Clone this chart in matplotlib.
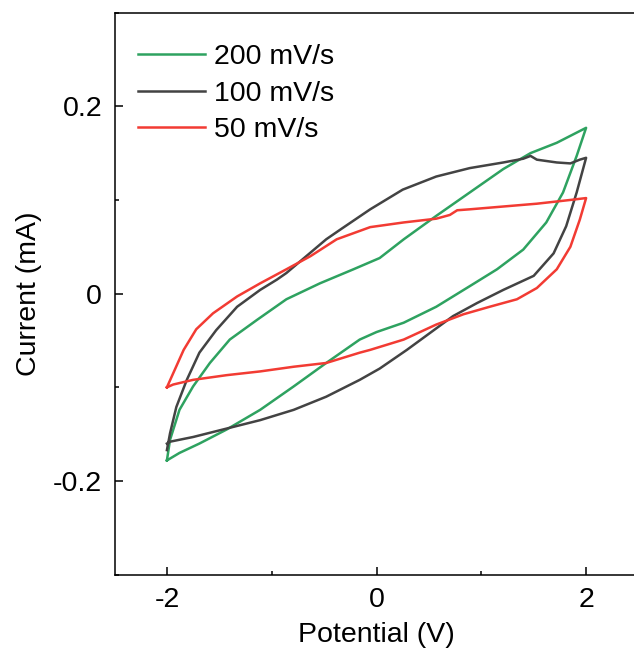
import numpy as np
import matplotlib
matplotlib.use('Agg')
import matplotlib.pyplot as plt
from matplotlib.ticker import MultipleLocator

matplotlib.rcParams['font.family'] = ['Liberation Sans', 'DejaVu Sans']
matplotlib.rcParams['axes.unicode_minus'] = False

# 200 mV/s: forward (upper) branch, then reverse (lower) branch
e200 = [-2.0, -1.97, -1.88, -1.75, -1.59, -1.40, -1.14, -0.86, -0.54, -0.22, 0.03, 0.26, 0.57, 0.89, 1.21, 1.47, 1.72, 2.0,
        1.91, 1.78, 1.62, 1.40, 1.15, 0.89, 0.57, 0.26, 0.0, -0.16, -0.48, -0.79, -1.11, -1.43, -1.69, -1.88, -2.0]
i200 = [-0.178, -0.156, -0.124, -0.099, -0.074, -0.049, -0.028, -0.006, 0.011, 0.026, 0.038, 0.058, 0.083, 0.108, 0.133, 0.150, 0.161, 0.177,
        0.147, 0.108, 0.076, 0.047, 0.026, 0.008, -0.014, -0.031, -0.041, -0.049, -0.074, -0.099, -0.124, -0.145, -0.160, -0.170, -0.178]

# 100 mV/s
e100 = [-2.0, -1.97, -1.91, -1.81, -1.69, -1.53, -1.33, -1.11, -0.95, -0.86, -0.67, -0.48, -0.35, -0.06, 0.25, 0.57, 0.89, 1.21,
        1.40, 1.47, 1.53, 1.72, 1.85, 1.94, 2.0,
        1.91, 1.81, 1.69, 1.50, 1.21, 0.96, 0.73, 0.51, 0.29, 0.03, -0.16, -0.48, -0.79, -1.11, -1.43, -1.75, -1.97, -2.0]
i100 = [-0.167, -0.149, -0.121, -0.092, -0.063, -0.039, -0.014, 0.004, 0.015, 0.022, 0.040, 0.058, 0.068, 0.090, 0.111, 0.125, 0.134, 0.140,
        0.144, 0.147, 0.143, 0.140, 0.139, 0.143, 0.145,
        0.108, 0.072, 0.043, 0.019, 0.004, -0.010, -0.024, -0.042, -0.060, -0.080, -0.092, -0.110, -0.124, -0.135, -0.144, -0.153, -0.158, -0.160]

# 50 mV/s
e50 = [-2.0, -1.94, -1.84, -1.72, -1.56, -1.33, -1.11, -0.86, -0.63, -0.38, -0.06, 0.26, 0.57, 0.70, 0.77, 0.89, 1.21, 1.53, 1.85, 2.0,
       1.94, 1.85, 1.72, 1.53, 1.34, 1.08, 0.83, 0.57, 0.26, -0.06, -0.16, -0.48, -0.79, -1.11, -1.43, -1.75, -1.94, -2.0]
i50 = [-0.100, -0.085, -0.060, -0.038, -0.021, -0.003, 0.011, 0.026, 0.040, 0.058, 0.071, 0.076, 0.080, 0.084, 0.089, 0.090, 0.093, 0.096, 0.100, 0.102,
       0.079, 0.050, 0.026, 0.006, -0.006, -0.014, -0.022, -0.033, -0.049, -0.060, -0.063, -0.074, -0.078, -0.083, -0.087, -0.092, -0.097, -0.100]

labels = ['200 mV/s', '100 mV/s', '50 mV/s']
colors = ['#2EA260', '#434343', '#F23B33']

fig = plt.figure(figsize=(6.34, 6.54), dpi=100)
ax = fig.add_axes([0.1806, 0.1212, 0.8265, 0.8596])

for e, i, lab, c in zip([e200, e100, e50], [i200, i100, i50], labels, colors):
    ax.plot(e, i, color=c, linewidth=1.8, label=lab, solid_joinstyle='round')

ax.set_xlim(-2.5, 2.5)
ax.set_ylim(-0.3, 0.3)
ax.xaxis.set_minor_locator(MultipleLocator(1))
ax.yaxis.set_minor_locator(MultipleLocator(0.1))
ax.set_xticks([-2, 0, 2])
ax.set_xticklabels(['-2', '0', '2'])
ax.set_yticks([-0.2, 0, 0.2])
ax.set_yticklabels(['-0.2', '0', '0.2'])

ax.tick_params(which='both', direction='in', labelsize=20.5, width=1.1)
ax.tick_params(which='major', length=6, pad=9)
ax.tick_params(which='minor', length=3)
ax.tick_params(top=False, right=False, which='both')
for s in ax.spines.values():
    s.set_linewidth(1.1)

ax.set_xlabel('Potential (V)', fontsize=20.5, labelpad=6)
ax.set_ylabel('Current (mA)', fontsize=20.5, labelpad=8)

ax.legend(loc='upper left', bbox_to_anchor=(-0.009, 0.994), frameon=False, fontsize=20.5,
          handlelength=2.35, handletextpad=0.3, labelspacing=0.36, borderaxespad=0.6)

fig.savefig('out.png', dpi=100)
plt.close(fig)
